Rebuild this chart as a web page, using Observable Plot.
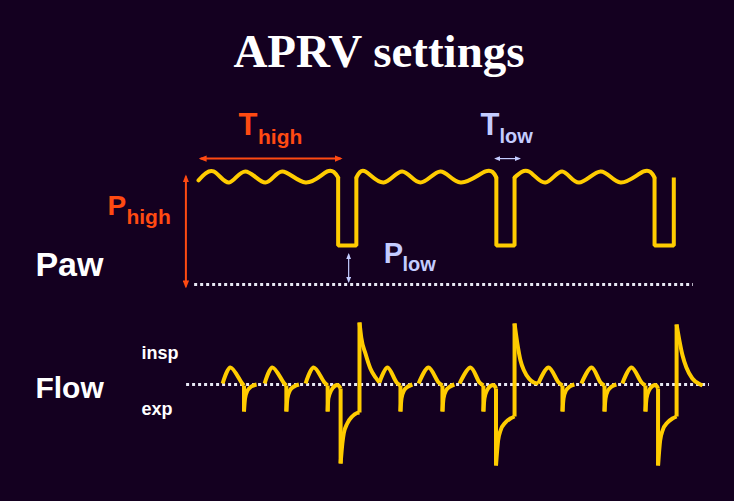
<!DOCTYPE html>
<html><head><meta charset="utf-8">
<script src="https://cdn.jsdelivr.net/npm/d3@7"></script>
<script src="https://cdn.jsdelivr.net/npm/@observablehq/plot@0.6"></script>
<style>
html,body{margin:0;padding:0;background:#140020;}
#wrap{position:relative;width:734px;height:501px;background:#140020;overflow:hidden;}
#title{position:absolute;left:0;top:28px;width:758px;text-align:center;font:bold 47px/47px "Liberation Serif","Times New Roman",serif;color:#fff;}
#wrap svg{position:absolute;left:0;top:0;}
</style></head><body>
<div id="wrap"><div id="title">APRV settings</div></div>
<script>
// ---------- data (time in s, Paw in cmH2O, Flow in L/min) ----------
// Paw high plateaus: [segment, t, Paw]
const pawHighPts = [
  [1,0.00,29.2],[1,0.43,31.7],[1,0.87,28.6],[1,1.34,31.7],[1,1.91,28.6],[1,2.39,31.7],[1,3.06,28.6],[1,3.68,31.7],[1,3.99,30.0],
  [2,4.51,30.0],[2,4.77,31.7],[2,5.29,28.6],[2,5.82,31.7],[2,6.34,28.6],[2,6.91,31.7],[2,7.49,28.6],[2,8.20,31.7],[2,8.51,30.0],
  [3,9.03,30.0],[3,9.44,31.7],[3,9.91,28.6],[3,10.39,31.7],[3,10.87,28.6],[3,11.49,31.7],[3,12.06,28.6],[3,12.72,31.7],[3,13.03,30.0]
];
// Paw release phases (T low at P low): [segment, t, Paw]
const pawLowPts = [
  [1,3.99,30.0],[1,3.99,10.9],[1,4.51,10.9],[1,4.51,30.0],
  [2,8.51,30.0],[2,8.51,10.9],[2,9.03,10.9],[2,9.03,30.0],
  [3,13.03,30.0],[3,13.03,10.9],[3,13.58,10.9],[3,13.58,30.0]
];
// Flow: spontaneous inspiratory humps [piece, t, flow]
const flowHumpPts = [
  ["h1",0.69,1],["h1",0.91,17],["h1",1.23,2],["h1",1.30,-1],
  ["h2",1.89,1],["h2",2.11,17],["h2",2.43,2],["h2",2.51,-1],
  ["h3",3.06,1],["h3",3.29,17],["h3",3.60,2],["h3",3.69,-1],
  ["h4",5.17,2],["h4",5.40,17],["h4",5.66,2],["h4",5.77,-1],
  ["h5",6.29,1],["h5",6.57,17],["h5",6.86,2],["h5",6.97,-1],
  ["h6",7.46,1],["h6",7.77,17],["h6",8.03,2],["h6",8.14,-1],
  ["h7",9.71,1],["h7",10.00,17],["h7",10.29,2],["h7",10.40,-1],
  ["h8",10.94,1],["h8",11.23,17],["h8",11.49,2],["h8",11.60,-1],
  ["h9",12.11,1],["h9",12.37,17],["h9",12.66,2],["h9",12.77,-1]
];
// Flow: straight jumps (expiratory stems, release and re-inflation)
const flowStraightPts = [
  ["s1",1.30,-1],["s1",1.30,-27],
  ["s2",2.51,-1],["s2",2.51,-27],
  ["s3",3.69,-1],["s3",3.69,-27],
  ["rel1",4.06,-4],["rel1",4.06,-79],
  ["ins1",4.60,-28],["ins1",4.60,62],
  ["s4",5.77,-1],["s4",5.77,-27],
  ["s5",6.97,-1],["s5",6.97,-27],
  ["s6",8.14,-1],["s6",8.14,-27],
  ["rel2",8.50,-4],["rel2",8.50,-81],
  ["ins2",9.03,-32],["ins2",9.03,61],
  ["s7",10.40,-1],["s7",10.40,-27],
  ["s8",11.60,-1],["s8",11.60,-27],
  ["s9",12.77,-1],["s9",12.77,-27],
  ["rel3",13.13,-4],["rel3",13.13,-81],
  ["ins3",13.66,-32],["ins3",13.66,60]
];
// Flow: curved pieces (expiratory recoveries and decays)
const flowCurvePts = [
  ["r1",1.30,-27],["r1",1.33,-14],["r1",1.40,-6],["r1",1.51,-2],["r1",1.66,0],
  ["r2",2.51,-27],["r2",2.54,-14],["r2",2.61,-6],["r2",2.73,-2],["r2",2.87,0],
  ["r3",3.69,-27],["r3",3.71,-14],["r3",3.79,-6],["r3",3.89,-1.5],["r3",3.97,-0.5],["r3",4.06,-4],
  ["e1",4.06,-79],["e1",4.11,-59],["e1",4.15,-49],["e1",4.25,-39],["e1",4.39,-32],["e1",4.53,-28.5],["e1",4.60,-28],
  ["d1",4.60,62],["d1",4.65,47],["d1",4.77,31],["d1",4.91,16],["d1",5.06,7],["d1",5.17,2],
  ["r4",5.77,-27],["r4",5.80,-14],["r4",5.87,-6],["r4",5.99,-2],["r4",6.11,0],
  ["r5",6.97,-27],["r5",7.00,-14],["r5",7.07,-6],["r5",7.19,-2],["r5",7.31,0],
  ["r6",8.14,-27],["r6",8.17,-14],["r6",8.24,-6],["r6",8.34,-1.5],["r6",8.43,-0.5],["r6",8.50,-4],
  ["e2",8.50,-81],["e2",8.56,-56],["e2",8.63,-46],["e2",8.77,-38],["e2",8.91,-34],["e2",9.03,-32],
  ["d2",9.03,61],["d2",9.11,41],["d2",9.20,24],["d2",9.30,14],["d2",9.44,6],["d2",9.58,2],["d2",9.71,1],
  ["r7",10.40,-27],["r7",10.43,-14],["r7",10.50,-6],["r7",10.61,-2],["r7",10.74,0],
  ["r8",11.60,-27],["r8",11.63,-14],["r8",11.70,-6],["r8",11.81,-2],["r8",11.94,0],
  ["r9",12.77,-27],["r9",12.80,-14],["r9",12.87,-6],["r9",12.97,-1.5],["r9",13.06,-0.5],["r9",13.13,-4],
  ["e3",13.13,-81],["e3",13.19,-56],["e3",13.26,-46],["e3",13.40,-38],["e3",13.54,-34],["e3",13.66,-32],
  ["d3",13.66,60],["d3",13.74,44],["d3",13.83,29],["d3",13.94,17],["d3",14.11,6],["d3",14.34,0],["d3",14.40,-1]
];
// zero lines (time extent) and annotation spans
const pawZeroSpan = [-0.11, 14.14];
const flowZeroSpan = [-0.34, 14.6];
const tHighSpan = [0.06, 4.06];   // s
const tLowSpan = [8.49, 9.17];    // s
const pHighSpan = [-0.56, 30.3];  // cmH2O
const pLowSpan = [0.84, 8.4];     // cmH2O

// ---------- helpers ----------
const rows = (a) => a.map(([seg, t, v]) => ({seg, t, v}));
const pawHigh = rows(pawHighPts), pawLow = rows(pawLowPts);
const flowHump = rows(flowHumpPts), flowStraight = rows(flowStraightPts), flowCurve = rows(flowCurvePts);

const YEL = "#FFCC00", ORANGE = "#FF4A12", LAV = "#C4CCFF", DOT = "#E8E8F4";
const SANS = "'Liberation Sans', Arial, Helvetica, sans-serif";
const NS = "http://www.w3.org/2000/svg";
function head(len, half, out) {
  return (color) => {
    const m = document.createElementNS(NS, "marker");
    m.setAttribute("viewBox", `${-len + out} ${-half} ${len} ${2 * half}`);
    m.setAttribute("markerUnits", "userSpaceOnUse");
    m.setAttribute("markerWidth", len);
    m.setAttribute("markerHeight", 2 * half);
    m.setAttribute("refX", 0);
    m.setAttribute("refY", 0);
    m.setAttribute("orient", "auto-start-reverse");
    const p = document.createElementNS(NS, "path");
    p.setAttribute("d", `M${-len + out},${-half}L${out},0L${-len + out},${half}Z`);
    p.setAttribute("fill", color);
    p.setAttribute("stroke", "none");
    m.appendChild(p);
    return m;
  };
}
const bigHead = head(8, 3.2, 2), smallHead = head(6, 2.4, 1.5);

const label = (s, x, y, size, color) =>
  Plot.text([s], {x, y, text: (d) => d, textAnchor: "start", lineAnchor: "bottom",
    fontSize: size, fontWeight: "bold", fontFamily: SANS, fill: color});

const X = {domain: [0, 14], range: [198, 688], axis: null};
const common = {width: 734, height: 501, margin: 0, style: {background: "transparent", overflow: "visible"}};

// ---------- Paw panel ----------
const paw = Plot.plot({
  ...common,
  x: X,
  y: {domain: [0, 30], range: [284, 177], axis: null},
  marks: [
    Plot.ruleY([0], {x1: pawZeroSpan[0], x2: pawZeroSpan[1], stroke: DOT, strokeWidth: 3, strokeDasharray: "3,3"}),
    Plot.line(pawLow, {x: "t", y: "v", z: "seg", stroke: YEL, strokeWidth: 4, strokeLinejoin: "miter", strokeLinecap: "butt"}),
    Plot.line(pawHigh, {x: "t", y: "v", z: "seg", curve: "natural", stroke: YEL, strokeWidth: 4, strokeLinecap: "round"}),
    Plot.link([0], {x1: tHighSpan[0], x2: tHighSpan[1], y1: 35.3, y2: 35.3, stroke: ORANGE, strokeWidth: 2, markerStart: bigHead, markerEnd: bigHead}),
    Plot.link([0], {x1: -0.36, x2: -0.36, y1: pHighSpan[0], y2: pHighSpan[1], stroke: ORANGE, strokeWidth: 2, markerStart: bigHead, markerEnd: bigHead}),
    Plot.link([0], {x1: tLowSpan[0], x2: tLowSpan[1], y1: 35.3, y2: 35.3, stroke: LAV, strokeWidth: 1.2, markerStart: smallHead, markerEnd: smallHead}),
    Plot.link([0], {x1: 4.29, x2: 4.29, y1: pLowSpan[0], y2: pLowSpan[1], stroke: LAV, strokeWidth: 1.2, markerStart: smallHead, markerEnd: smallHead}),
    label("T", 1.14, 42.05, 31, ORANGE),
    label("high", 1.70, 39.53, 21, ORANGE),
    label("P", -2.60, 19.62, 28, ORANGE),
    label("high", -2.06, 17.10, 21, ORANGE),
    label("T", 8.06, 42.05, 31, LAV),
    label("low", 8.60, 39.81, 20, LAV),
    label("P", 5.29, 5.89, 29, LAV),
    label("low", 5.83, 3.92, 20, LAV),
    label("Paw", -4.66, 2.52, 34, "#FFFFFF")
  ]
});

// ---------- Flow panel ----------
const flow = Plot.plot({
  ...common,
  x: X,
  y: {domain: [0, 60], range: [384, 324], axis: null},
  marks: [
    Plot.ruleY([0], {x1: flowZeroSpan[0], x2: flowZeroSpan[1], stroke: DOT, strokeWidth: 3, strokeDasharray: "3,3"}),
    Plot.line(flowHump, {x: "t", y: "v", z: "seg", curve: "catmull-rom", stroke: YEL, strokeWidth: 4, strokeLinejoin: "round", strokeLinecap: "butt"}),
    Plot.line(flowStraight, {x: "t", y: "v", z: "seg", stroke: YEL, strokeWidth: 4, strokeLinejoin: "round", strokeLinecap: "butt"}),
    Plot.line(flowCurve, {x: "t", y: "v", z: "seg", curve: "monotone-x", stroke: YEL, strokeWidth: 4, strokeLinejoin: "round", strokeLinecap: "butt"}),
    label("Flow", -4.66, -13, 30, "#FFFFFF"),
    label("insp", -1.63, 26, 18, "#FFFFFF"),
    label("exp", -1.63, -30.5, 18, "#FFFFFF")
  ]
});

const wrap = document.getElementById("wrap");
wrap.appendChild(paw);
wrap.appendChild(flow);
</script>
</body></html>
